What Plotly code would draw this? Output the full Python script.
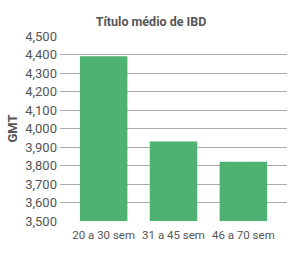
import plotly.graph_objects as go

categories = ["20 a 30 sem", "31 a 45 sem", "46 a 70 sem"]
values = [4390, 3930, 3820]
tick_vals = [3500, 3600, 3700, 3800, 3900, 4000, 4100, 4200, 4300, 4400, 4500]
tick_text = ["3,500", "3,600", "3,700", "3,800", "3,900", "4,000", "4,100", "4,200", "4,300", "4,400", "4,500"]

FONT = "Roboto"
TXT = "#555555"

fig = go.Figure(go.Bar(
    x=categories, y=values,
    marker=dict(color="#4db272", line=dict(width=0)),
))
fig.update_layout(
    width=302, height=259,
    margin=dict(l=48, r=15, t=36, b=38),
    paper_bgcolor="white", plot_bgcolor="white",
    bargap=0.32,
    showlegend=False,
    title=dict(text="<b>Título médio de IBD</b>", x=0.5, xanchor="center", y=0.918, yanchor="middle",
               font=dict(family=FONT, size=12.5, color=TXT)),
    font=dict(family=FONT, size=13, color=TXT),
)
fig.update_xaxes(range=[-0.625, 2.625], showgrid=False, ticks="", showline=False, tickangle=0,
                 ticklabelstandoff=5,
                 tickfont=dict(family=FONT, size=11.5, color=TXT))
fig.update_yaxes(range=[3500, 4500], tickvals=tick_vals, ticktext=tick_text,
                 showgrid=True, gridcolor="#aaaaaa", gridwidth=1, zeroline=False,
                 showline=False, ticks="", ticklabelstandoff=2,
                 title=dict(text="<b>GMT</b>", standoff=4, font=dict(family=FONT, size=13, color=TXT)),
                 tickfont=dict(family=FONT, size=13, color=TXT))
fig.write_html("out.html")
